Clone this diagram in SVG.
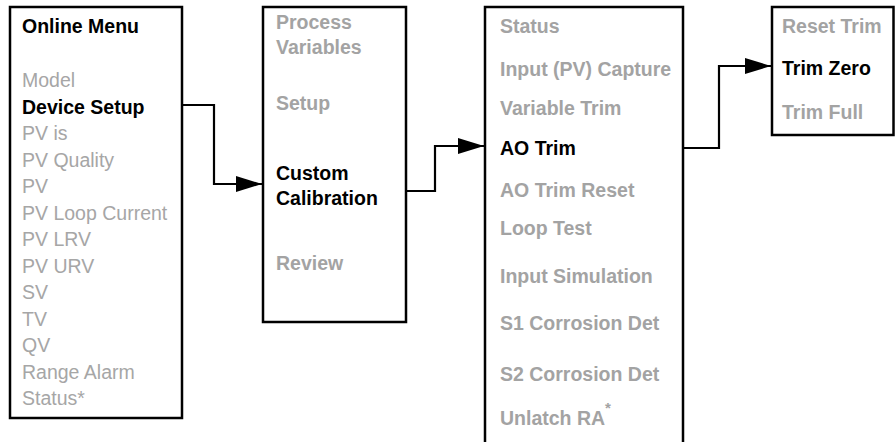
<svg xmlns="http://www.w3.org/2000/svg" width="895" height="442" viewBox="0 0 895 442">
  <defs>
    <style>
      .box { fill: #ffffff; stroke: #000000; stroke-width: 2.5; }
      .conn { fill: none; stroke: #000000; stroke-width: 2.2; }
      text { font-family: "Liberation Sans", Arial, sans-serif; font-size: 19.5px; }
      .g { fill: #a6a6a6; }
      .gb { fill: #a3a3a3; font-weight: bold; }
      .kb { fill: #000000; font-weight: bold; }
    </style>
    <marker id="arrow" markerUnits="userSpaceOnUse" markerWidth="27" markerHeight="17" refX="26" refY="8.5" orient="auto">
      <path d="M0,0.5 L26,8.5 L0,16.5 Z" fill="#000000"/>
    </marker>
  </defs>
  <rect width="895" height="442" fill="#ffffff"/>

  <g id="online-menu">
    <rect class="box" x="10" y="7" width="172" height="411"/>
    <text class="kb" x="22" y="33">Online Menu</text>
    <text class="g" x="22" y="87">Model</text>
    <text class="kb" x="22" y="113.5">Device Setup</text>
    <text class="g" x="22" y="140">PV is</text>
    <text class="g" x="22" y="166.5">PV Quality</text>
    <text class="g" x="22" y="193">PV</text>
    <text class="g" x="22" y="219.5">PV Loop Current</text>
    <text class="g" x="22" y="246">PV LRV</text>
    <text class="g" x="22" y="272.5">PV URV</text>
    <text class="g" x="22" y="299">SV</text>
    <text class="g" x="22" y="325.5">TV</text>
    <text class="g" x="22" y="352">QV</text>
    <text class="g" x="22" y="378.5">Range Alarm</text>
    <text class="g" x="22" y="405">Status*</text>
  </g>

  <g id="device-setup">
    <rect class="box" x="263" y="7" width="143" height="315"/>
    <text class="gb" x="276" y="29">Process</text>
    <text class="gb" x="276" y="54">Variables</text>
    <text class="gb" x="276" y="110">Setup</text>
    <text class="kb" x="276" y="180">Custom</text>
    <text class="kb" x="276" y="205">Calibration</text>
    <text class="gb" x="276" y="270">Review</text>
  </g>

  <g id="custom-calibration">
    <rect class="box" x="485" y="7" width="198" height="450"/>
    <text class="gb" x="500" y="33">Status</text>
    <text class="gb" x="500" y="76">Input (PV) Capture</text>
    <text class="gb" x="500" y="115">Variable Trim</text>
    <text class="kb" x="500" y="155">AO Trim</text>
    <text class="gb" x="500" y="197">AO Trim Reset</text>
    <text class="gb" x="500" y="235">Loop Test</text>
    <text class="gb" x="500" y="283">Input Simulation</text>
    <text class="gb" x="500" y="330">S1 Corrosion Det</text>
    <text class="gb" x="500" y="381">S2 Corrosion Det</text>
    <text class="gb" x="500" y="425">Unlatch RA<tspan dy="-12" font-size="15px">*</tspan></text>
  </g>

  <g id="ao-trim">
    <rect class="box" x="772" y="7" width="121.5" height="128"/>
    <text class="gb" x="782" y="33">Reset Trim</text>
    <text class="kb" x="782" y="75">Trim Zero</text>
    <text class="gb" x="782" y="119">Trim Full</text>
  </g>

  <g id="connectors">
    <path class="conn" d="M182,105 H214 V184 H262" marker-end="url(#arrow)"/>
    <path class="conn" d="M406,191 H435 V146 H484" marker-end="url(#arrow)"/>
    <path class="conn" d="M683,148 H719 V66 H771" marker-end="url(#arrow)"/>
  </g>
</svg>
